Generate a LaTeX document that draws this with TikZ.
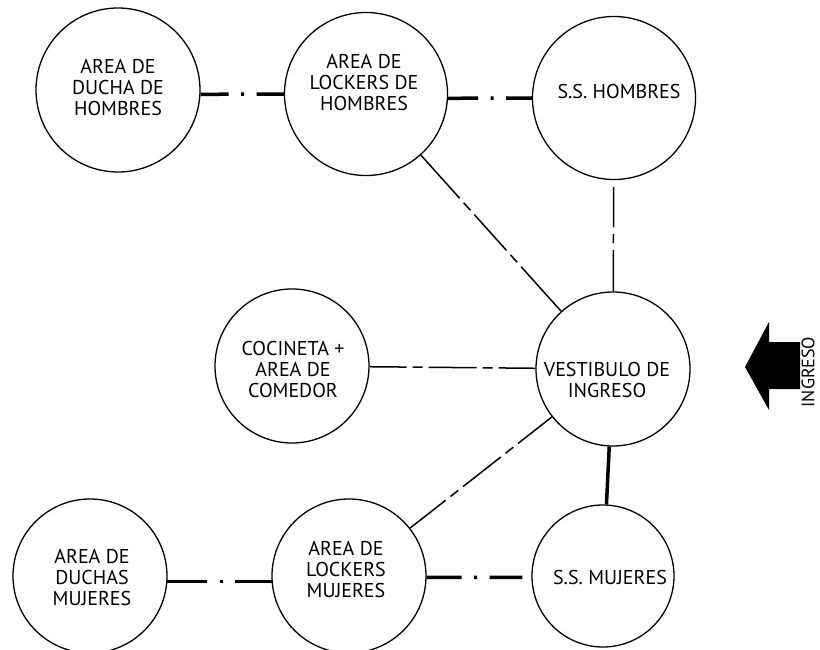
\documentclass[tikz,border=0pt]{standalone}
\usepackage{fontspec}
\setmainfont{PT Sans}
\begin{document}
\begin{tikzpicture}[x=1pt,y=-1pt,
  room/.style={circle,draw,line width=1.3pt,inner sep=0pt},
  lbl/.style={align=center,font=\fontsize{20}{21}\selectfont,inner sep=0pt},
  thickdd/.style={line width=3.5pt,dash pattern=on #1 off 12.5pt on 3pt off 12.5pt on 300pt},
  thinA/.style={line width=1.5pt,dash pattern=on #1 off 6pt on 10pt off 6pt on 48pt off 6pt on 10pt off 6pt on 300pt},
  thinB/.style={line width=1.5pt,dash pattern=on #1 off 7pt on 9pt off 7pt on 300pt},
  solidthick/.style={line width=3.5pt}
]
\useasboundingbox (0,0) rectangle (820,650);
% rooms
\node[room,minimum size=164pt] (DH) at (118,90) {};
\node[room,minimum size=163pt] (LH) at (366,94) {};
\node[room,minimum size=163pt] (SSH) at (614,98) {};
\node[room,minimum size=154pt] (COC) at (292,366) {};
\node[room,minimum size=154pt] (VEST) at (613,369) {};
\node[room,minimum size=154pt] (DM) at (90,576) {};
\node[room,minimum size=154pt] (LM) at (349,576) {};
\node[room,minimum size=142pt] (SSM) at (603,576) {};
% labels
\node[lbl] (DHt) at (118,88) {AREA DE\\DUCHA DE\\HOMBRES};
\node[lbl] (LHt) at (364,83) {AREA DE\\LOCKERS DE\\HOMBRES};
\node[lbl] (SSHt) at (619,92) {S.S. HOMBRES};
\node[lbl] (COCt) at (293,369) {COCINETA +\\AREA DE\\COMEDOR};
\node[lbl] (VESTt) at (607,380) {VESTIBULO DE\\INGRESO};
\node[lbl] (DMt) at (92,578) {AREA DE\\DUCHAS\\MUJERES};
\node[lbl] (LMt) at (346,570) {AREA DE\\LOCKERS\\MUJERES};
\node[lbl] (SSMt) at (610,577) {S.S. MUJERES};
% connectors
\draw[thickdd=28pt] (DH.-3) -- (LH.180);
\draw[thickdd=30pt] (LH.-3) -- (SSH.180);
\draw[thickdd=40pt] (DM.-4) -- (LM.184);
\draw[thickdd=35pt,shorten >=9pt] (LM.-1.5) -- (SSM.181.5);
\draw[thinA=58pt] (LH) -- (VEST);
\draw[thinA=37pt] (COC) -- (VEST);
\draw[thinA=43pt] (VEST) -- (LM);
\draw[thinB=40pt,shorten <=7pt] (SSH) -- (VEST);
\draw[solidthick] (VEST) -- (SSM);
% entrance arrow
\fill (745,367) -- (769,322) -- (769,342) -- (800,342) -- (800,389) -- (769,389) -- (769,410) -- cycle;
\node[lbl,rotate=90,font=\fontsize{18}{20}\selectfont] (ING) at (808,372) {INGRESO};
\end{tikzpicture}
\end{document}
